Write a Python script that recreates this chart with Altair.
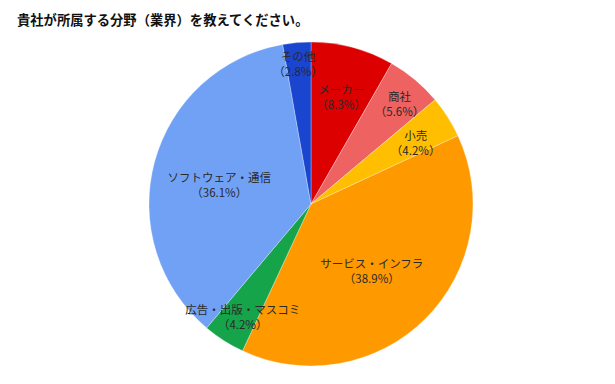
import altair as alt
import pandas as pd

TITLE = "貴社が所属する分野（業界）を教えてください。"
categories = ["メーカー", "商社", "小売", "サービス・インフラ", "広告・出版・マスコミ", "ソフトウェア・通信", "その他"]
shares = [8.3, 5.6, 4.2, 38.9, 4.2, 36.1, 2.8]
colors = ["#dc0000", "#ef6262", "#ffbf00", "#ff9900", "#16a44b", "#71a1f5", "#1a45cf"]

# label placement (distance from centre, px)
label_radius = [117, 138, 124, 86, 127, 95, 147]

df = pd.DataFrame({
    "cat": categories,
    "val": shares,
    "order": list(range(len(categories))),
    "label": [f"{c}\n（{v}%）" for c, v in zip(categories, shares)],
    "lr": label_radius,
})

CX, CY, R = 303, 196, 162
FONT = "Noto Sans CJK JP"

pie = alt.Chart(df).mark_arc(outerRadius=R, stroke="white", strokeWidth=0.3).encode(
    theta=alt.Theta("val:Q", stack=True),
    order=alt.Order("order:Q", sort="ascending"),
    x=alt.value(CX),
    y=alt.value(CY),
    color=alt.Color("cat:N", scale=alt.Scale(domain=categories, range=colors), legend=None),
)

labels = alt.Chart(df).transform_joinaggregate(
    total="sum(val)"
).transform_window(
    cum="sum(val)", sort=[alt.SortField("order")], frame=[None, 0]
).transform_calculate(
    mid="(datum.cum - datum.val / 2) / datum.total * 2 * PI"
).mark_text(
    font=FONT, fontSize=11.5, color="#2a2a2a", lineBreak="\n", lineHeight=15,
    align="center", baseline="middle",
).encode(
    x=alt.value(CX),
    y=alt.value(CY),
    theta=alt.Theta("mid:Q", scale=None),
    radius=alt.Radius("lr:Q", scale=None),
    text="label:N",
)

title = alt.Chart(pd.DataFrame({"t": [TITLE]})).mark_text(
    font=FONT, fontSize=13.3, fontWeight="bold", color="#111111",
    align="left", baseline="middle",
).encode(x=alt.value(9), y=alt.value(13), text="t:N")

chart = alt.layer(pie, labels, title).properties(
    width=599, height=368, padding=0,
    autosize=alt.AutoSizeParams(type="none"),
).configure_view(stroke=None)

chart.save("out.html", embed_options={"renderer": "svg", "actions": False})
